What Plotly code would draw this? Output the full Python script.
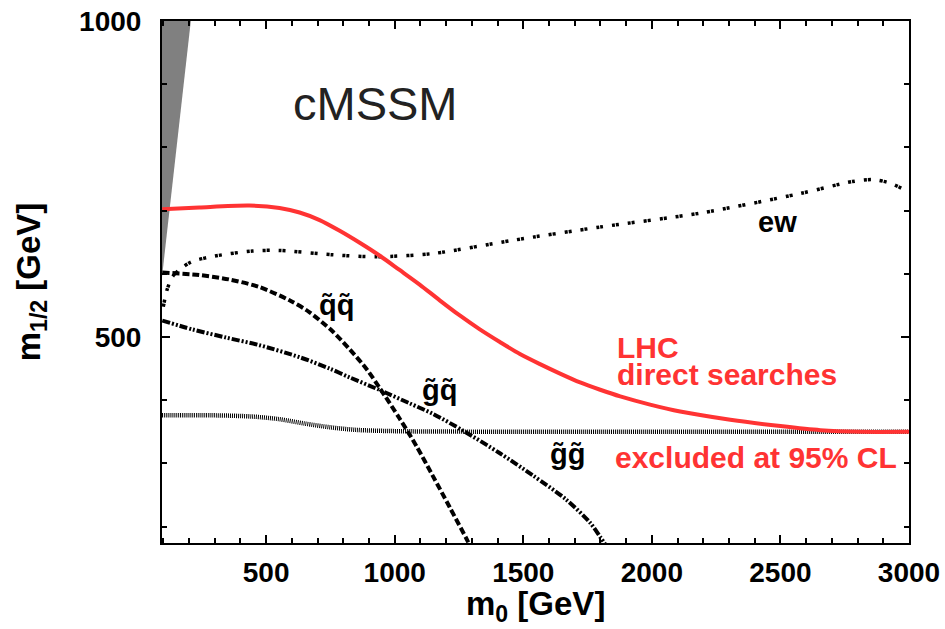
import plotly.graph_objects as go

# m0 [GeV] / m1/2 [GeV] contours in the cMSSM plane
lhc_m0 = [96, 240, 435, 552, 630, 708, 786, 864, 942, 1019, 1097, 1175, 1253, 1331, 1409,
          1487, 1565, 1643, 1721, 1799, 1877, 1993, 2110, 2305, 2500, 2655, 2811, 3000]
lhc_m12 = [702, 705, 708, 704, 697, 685, 668, 649, 628.5, 606, 583, 558, 534, 512, 492,
           473, 457, 442, 428, 416.5, 406, 393, 382, 369, 359, 352.5, 350, 350]

ew_m0 = [100, 115, 135, 165, 210, 300, 447, 550, 760, 930, 1147, 1459, 1799, 2188, 2577, 2780, 2862, 2930, 3000]
ew_m12 = [548, 575, 595, 607, 619, 628, 636, 637, 630, 627, 632, 653, 674, 696, 727, 746, 749, 743, 729]

sqsq_m0 = [96, 240, 357, 474, 591, 669, 758, 825, 891, 942, 1019, 1085, 1147, 1214, 1280, 1311]
sqsq_m12 = [602, 598, 591, 579, 558, 539, 509, 480.5, 449, 419, 371, 327, 281, 230.5, 180, 155]

glsq_m0 = [96, 213, 345, 474, 630, 747, 825, 942, 1058, 1148, 1265, 1409, 1537, 1666, 1760, 1800, 1830]
glsq_m12 = [526, 512, 499, 487, 468, 450, 436, 416, 395, 378.5, 352, 316, 281, 243, 206, 183, 165]

glgl_m0 = [95, 300, 450, 550, 650, 750, 850, 1000, 1500, 3000]
glgl_m12 = [376, 376, 374, 370, 363, 357, 353, 351, 350, 350]

# excluded corner at small m0
wedge_m0 = [95, 207, 95, 95]
wedge_m12 = [1000, 1000, 595, 1000]

RED = "#ff3333"
FONT = "Liberation Sans, Arial, sans-serif"

fig = go.Figure()

fig.add_trace(go.Scatter(x=wedge_m0, y=wedge_m12, mode="lines", fill="toself",
                         fillcolor="#808080", line=dict(width=0), hoverinfo="skip"))
curves = [
    (glgl_m0, glgl_m12, dict(color="black", width=4.5, dash="1px,1px")),
    (sqsq_m0, sqsq_m12, dict(color="black", width=4, dash="7px,3px")),
    (glsq_m0, glsq_m12, dict(color="black", width=4, dash="8px,2px,2px,2px,2px,2px")),
    (ew_m0, ew_m12, dict(color="black", width=3.5, dash="3px,1px,3px,9px")),
    (lhc_m0, lhc_m12, dict(color=RED, width=4)),
]
for xs, ys, ln in curves:
    fig.add_trace(go.Scatter(x=xs, y=ys, mode="lines",
                             line=dict(shape="spline", smoothing=0.8, **ln)))

bold = dict(family=FONT, size=29, color="black", weight="bold")
labels = [
    ("q\u0303q\u0303", 775, 551),
    ("g\u0303q\u0303", 1175, 416),
    ("g\u0303g\u0303", 1672, 315),
    ("ew", 2490, 682),
]
for txt, x, y in labels:
    fig.add_annotation(x=x, y=y, text=txt, showarrow=False, font=bold,
                       xanchor="center", yanchor="middle")

red_font = dict(family=FONT, size=30, color=RED, weight="bold")
for txt, x, y in [("LHC", 1857, 484), ("direct searches", 1857, 441),
                  ("excluded at 95% CL", 1849, 309)]:
    fig.add_annotation(x=x, y=y, text=txt, showarrow=False, font=red_font,
                       xanchor="left", yanchor="middle")

fig.add_annotation(x=925, y=870, text="cMSSM", showarrow=False,
                   font=dict(family=FONT, size=47, color="#222222"),
                   xanchor="center", yanchor="middle")

# axis titles
title_font = dict(family=FONT, size=33, color="black", weight="bold")
fig.add_annotation(xref="paper", yref="paper", x=0.5, y=-0.12,
                   text="m<sub>0</sub> [GeV]", showarrow=False, font=title_font,
                   xanchor="center", yanchor="middle")
fig.add_annotation(xref="paper", yref="paper", x=-0.175, y=0.5, textangle=-90,
                   text="m<sub>1/2</sub> [GeV]", showarrow=False, font=title_font,
                   xanchor="center", yanchor="middle")

axis_common = dict(showgrid=False, zeroline=False, showline=True, linecolor="black",
                   linewidth=2, mirror="allticks", ticks="inside", ticklen=8,
                   tickwidth=1.5, tickcolor="black", automargin=False,
                   tickfont=dict(family=FONT, size=28, color="black", weight="bold"))

fig.update_xaxes(range=[95, 3000], tick0=0, dtick=500, ticklabelstandoff=3,
                 minor=dict(dtick=100, tick0=0, ticks="inside", ticklen=5,
                            tickwidth=1.5, tickcolor="black"),
                 **axis_common)
fig.update_yaxes(range=[174, 1000], tick0=0, dtick=500, ticklabelstandoff=13,
                 minor=dict(dtick=100, tick0=0, ticks="inside", ticklen=5,
                            tickwidth=1.5, tickcolor="black"),
                 **axis_common)

fig.update_layout(width=945, height=629, showlegend=False,
                  margin=dict(l=162, r=36, t=21, b=86),
                  paper_bgcolor="white", plot_bgcolor="white")

fig.write_html("out.html")
